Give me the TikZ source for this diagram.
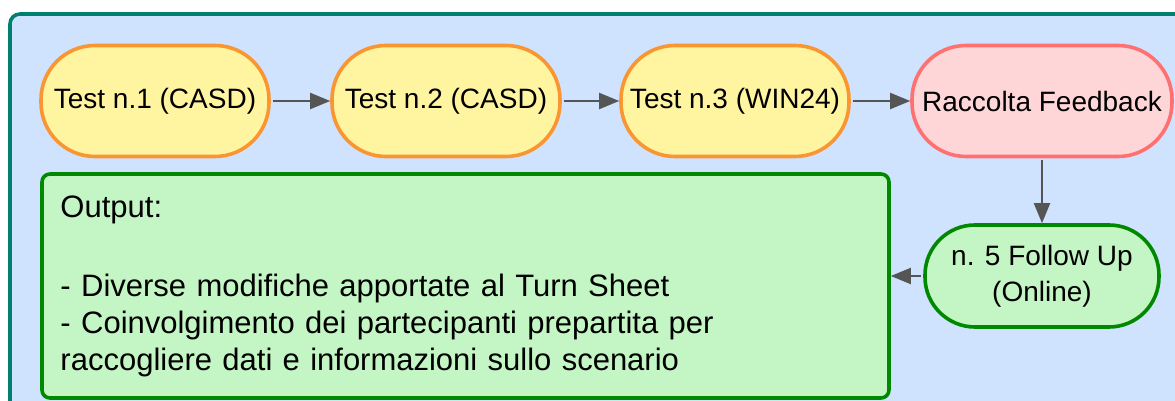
\documentclass[tikz,border=0pt]{standalone}
\usepackage{fontspec}
\setmainfont{Liberation Sans}
\usetikzlibrary{arrows.meta, positioning}

\definecolor{framegreen}{RGB}{0,128,110}
\definecolor{panelblue}{RGB}{207,227,255}
\definecolor{testfill}{RGB}{255,245,160}
\definecolor{testline}{RGB}{250,150,50}
\definecolor{fbfill}{RGB}{255,214,216}
\definecolor{fbline}{RGB}{255,112,112}
\definecolor{outfill}{RGB}{196,245,196}
\definecolor{outgreen}{RGB}{0,137,0}
\definecolor{arrowgray}{RGB}{85,85,85}

\begin{document}
\begin{tikzpicture}[x=0.5pt, y=-0.5pt,
    stage/.style={draw=testline, fill=testfill, line width=1.8pt, rounded corners=27pt,
        minimum width=114pt, minimum height=55.5pt, inner sep=1pt,
        font=\fontsize{14}{18}\selectfont},
    flow/.style={-{Triangle[length=10pt, width=8pt]}, draw=arrowgray, line width=1pt, shorten <=1pt}]
    \useasboundingbox (0,0) rectangle (1175,401);
    \begin{scope}
        \clip (0,0) rectangle (1175,401);
        \draw[framegreen, fill=panelblue, line width=1.8pt, rounded corners=5pt] (10,14) rectangle (1200,430);
    \end{scope}
    \node[stage] (t1) at (155,101) {Test n.1 (CASD)};
    \node[stage] (t2) at (446,101) {Test n.2 (CASD)};
    \node[stage] (t3) at (735,101) {Test n.3 (WIN24)};
    \node[stage, draw=fbline, fill=fbfill, minimum width=130pt] (fb) at (1042,101) {Raccolta Feedback};
    \node[stage, draw=outgreen, fill=outfill, minimum width=117pt, minimum height=51pt,
        rounded corners=25pt, align=center] (fu) at (1042,276) {n. 5 Follow Up\\(Online)};
    \node[draw=outgreen, fill=outfill, line width=1.8pt, rounded corners=4pt,
        minimum width=423.5pt, minimum height=112pt, text width=405pt, inner xsep=9pt,
        align=left, font=\fontsize{15.5}{18.5}\selectfont] (out) at (465.5,286)
        {Output:\\[21pt]
        - Diverse modifiche apportate al Turn Sheet\\
        - Coinvolgimento dei partecipanti prepartita per\\
        raccogliere dati e informazioni sullo scenario};
    \draw[flow] (t1) -- (t2);
    \draw[flow] (t2) -- (t3);
    \draw[flow] (t3) -- (fb);
    \draw[flow] (fb) -- (fu);
    \draw[flow] (fu.west) -- (fu.west -| out.east);
\end{tikzpicture}
\end{document}
